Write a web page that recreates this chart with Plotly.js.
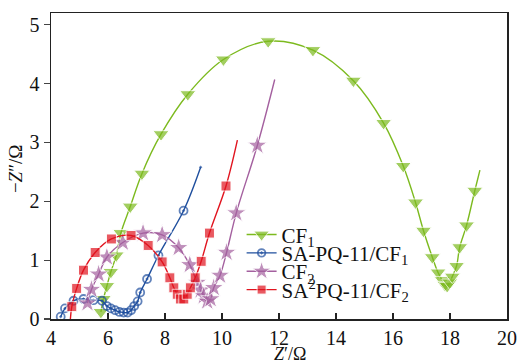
<!DOCTYPE html>
<html>
<head>
<meta charset="utf-8">
<script src="https://cdn.plot.ly/plotly-3.0.1.min.js"></script>
<style>html,body{margin:0;padding:0;background:#fff;}#chart{width:517px;height:363px;}</style>
</head>
<body>
<div id="chart"></div>
<script>
// ---- data ----
const cf1X = [5.75,5.84,5.96,6.10,6.29,6.45,6.78,7.19,7.86,8.80,10.05,11.62,13.19,14.61,15.67,16.36,16.79,17.07,17.38,17.58,17.73,17.82,17.90,17.99,18.08,18.23,18.34,18.58,18.87,19.05];
const cf1Y = [0.12,0.34,0.56,0.80,1.08,1.46,1.91,2.47,3.14,3.82,4.41,4.72,4.57,4.05,3.33,2.60,1.98,1.50,1.05,0.79,0.66,0.58,0.56,0.62,0.72,0.90,1.22,1.59,2.18,2.53];

const sa1X = [4.34,4.49,4.79,5.14,5.49,5.79,5.96,6.10,6.25,6.40,6.55,6.69,6.81,6.92,7.04,7.13,7.37,7.77,8.65,9.25];
const sa1Y = [0.04,0.18,0.31,0.34,0.32,0.31,0.22,0.18,0.15,0.12,0.11,0.11,0.15,0.22,0.30,0.45,0.68,1.08,1.84,2.58];

const cf2X = [5.28,5.42,5.67,5.96,6.52,7.23,7.90,8.48,8.87,9.13,9.25,9.36,9.48,9.60,9.71,9.93,10.16,10.50,11.24,11.85];
const cf2Y = [0.27,0.50,0.76,1.05,1.30,1.46,1.43,1.21,0.92,0.62,0.49,0.39,0.30,0.34,0.53,0.74,1.13,1.80,2.95,4.07];

const sa2X = [4.68,4.73,4.90,5.14,5.55,6.12,6.81,7.41,7.90,8.17,8.31,8.43,8.54,8.66,8.78,8.89,9.06,9.27,9.56,10.14,10.54];
const sa2Y = [0.00,0.21,0.52,0.83,1.13,1.36,1.42,1.25,0.97,0.70,0.53,0.42,0.34,0.34,0.42,0.53,0.70,0.98,1.46,2.26,3.04];

const names = ['CF<sub>1</sub>', 'SA-PQ-11/CF<sub>1</sub>', 'CF<sub>2</sub>', 'SA<sup>2</sup>PQ-11/CF<sub>2</sub>'];
const xTicks = [4,6,8,10,12,14,16,18,20];
const yTicks = [0,1,2,3,4,5];
const xTitle = '<i>Z</i>′/Ω';
const yTitle = '−<i>Z</i>″/Ω';

// points that are line-only (curve continues beyond the last marker)
function sizes(arr, size, noMarkerIdx) {
  return arr.map((_, i) => noMarkerIdx.includes(i) ? 0 : size);
}

const FONT = 'Liberation Serif, Times New Roman, serif';
const INK = '#111';

const traces = [
  {x: cf1X, y: cf1Y, name: names[0], legend: 'legend',
   mode: 'lines+markers', line: {color: '#7cba1e', width: 1.4, shape: 'spline'},
   marker: {symbol: 'triangle-down', color: '#7cba1e', size: sizes(cf1X, 14, [cf1X.length-1])}},
  {x: sa1X, y: sa1Y, name: names[1], legend: 'legend2',
   mode: 'lines+markers', line: {color: '#1f4f9e', width: 1.4, shape: 'spline'},
   marker: {symbol: 'circle-open-dot', color: '#1f4f9e', size: sizes(sa1X, 8, [sa1X.length-1]), line: {width: 1.8, color: '#1f4f9e'}}},
  {x: cf2X, y: cf2Y, name: names[2], legend: 'legend3',
   mode: 'lines+markers', line: {color: '#a4609f', width: 1.4, shape: 'spline'},
   marker: {symbol: 'star', color: '#a4609f', size: sizes(cf2X, 15, [cf2X.length-1])}},
  {x: sa2X, y: sa2Y, name: names[3], legend: 'legend4',
   mode: 'lines+markers', line: {color: '#e1141f', width: 1.4, shape: 'spline'},
   marker: {symbol: 'square', color: '#e1141f', size: sizes(sa2X, 10, [0, sa2X.length-1])}}
];

function leg(y) {
  return {x: 0.418, xanchor: 'left', y: y, yanchor: 'middle', bgcolor: 'rgba(0,0,0,0)',
          borderwidth: 0, font: {family: FONT, size: 21, color: INK}};
}

const layout = {
  width: 517, height: 363,
  margin: {l: 51, r: 10, t: 13, b: 44},
  paper_bgcolor: '#fff', plot_bgcolor: '#fff',
  font: {family: FONT, size: 20, color: INK},
  showlegend: true,
  legend: leg(0.275), legend2: leg(0.215), legend3: leg(0.155), legend4: leg(0.095),
  xaxis: {range: [4, 20], tickvals: xTicks, ticktext: xTicks.map(String),
          ticks: 'inside', ticklen: 6, tickcolor: '#222', tickwidth: 1.2,
          showline: true, linecolor: '#222', linewidth: 1.5, mirror: true,
          showgrid: false, zeroline: false, ticklabeloverflow: 'allow',
          tickfont: {family: FONT, size: 20, color: INK}},
  yaxis: {range: [0, 5.2], tickvals: yTicks, ticktext: yTicks.map(String),
          ticks: 'outside', ticklen: 6, tickcolor: '#444', tickwidth: 1.2,
          showline: true, linecolor: '#222', linewidth: 1.5, mirror: true,
          showgrid: false, zeroline: false,
          tickfont: {family: FONT, size: 20, color: INK}},
  annotations: [
    {text: xTitle, xref: 'paper', yref: 'paper', x: 0.525, y: -0.114, xanchor: 'center', yanchor: 'middle',
     showarrow: false, font: {family: FONT, size: 18, color: INK}},
    {text: yTitle, xref: 'paper', yref: 'paper', x: -0.079, y: 0.493, xanchor: 'center', yanchor: 'middle',
     textangle: -90, showarrow: false, font: {family: FONT, size: 19, color: INK}}
  ]
};

Plotly.newPlot('chart', traces, layout, {displayModeBar: false, staticPlot: true});
</script>
</body>
</html>
